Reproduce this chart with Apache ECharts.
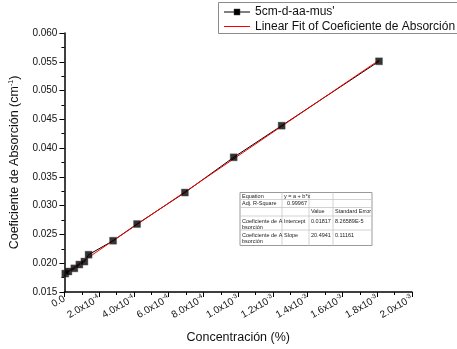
<!DOCTYPE html>
<html><head><meta charset="utf-8">
<script src="https://cdn.jsdelivr.net/npm/echarts@6/dist/echarts.min.js"></script>
<style>html,body{margin:0;padding:0;background:#fff}#c{width:457px;height:349px}</style>
</head><body><div id="c"></div>
<script>
// ---- data ----
const concentration = [0.000005, 0.000023, 0.000057, 0.000086, 0.000115, 0.000139, 0.00028, 0.000418, 0.000693, 0.000974, 0.00125, 0.00181];
const absorption    = [0.0182, 0.01856, 0.01911, 0.01977, 0.02029, 0.02148, 0.02391, 0.02681, 0.03228, 0.0384, 0.0439, 0.05508];
const fitX = [0, 0.00181];
const fitY = [0.01817, 0.05527];
const xTickLabels = ['0.0', '2.0x10{s|-4}', '4.0x10{s|-4}', '6.0x10{s|-4}', '8.0x10{s|-4}', '1.0x10{s|-3}', '1.2x10{s|-3}', '1.4x10{s|-3}', '1.6x10{s|-3}', '1.8x10{s|-3}', '2.0x10{s|-3}'];
const yTickLabels = ['0.015', '0.020', '0.025', '0.030', '0.035', '0.040', '0.045', '0.050', '0.055', '0.060'];
const seriesName = "5cm-d-aa-mus'";
const fitName = 'Linear Fit of Coeficiente de Absorción';
const xAxisName = 'Concentración (%)';
const yAxisName = 'Coeficiente de Absorción (cm{s|-1})';
const tableRows = [
  ['Equation', 'y = a + b*x', '', ''],
  ['Adj. R-Square', '0.99967', '', ''],
  ['', '', 'Value', 'Standard Error'],
  ['Coeficiente de A\nbsorción', 'Intercept', '0.01817', '8.26589E-5'],
  ['Coeficiente de A\nbsorción', 'Slope', '20.4941', '0.11161']
];

const FONT = '"Liberation Sans", Arial, sans-serif';

// ---- fit-results table (annotation) ----
const colX = [240, 282, 309, 333, 372];
const rowY = [192.5, 199.5, 207.5, 216, 230, 245.5];
const tableEls = [];
tableEls.push({type:'rect', shape:{x:colX[0], y:rowY[0], width:colX[4]-colX[0], height:rowY[5]-rowY[0]},
  style:{fill:'#fff', stroke:'#9a9a9a', lineWidth:1}, silent:true, z:10});
for (let i = 1; i < rowY.length - 1; i++) {
  tableEls.push({type:'line', shape:{x1:colX[0], y1:rowY[i], x2:colX[4], y2:rowY[i]}, style:{stroke:'#c8c8c8', lineWidth:0.8}, silent:true, z:11});
}
for (let j = 1; j < colX.length - 1; j++) {
  tableEls.push({type:'line', shape:{x1:colX[j], y1:rowY[0], x2:colX[j], y2:rowY[5]}, style:{stroke:'#c8c8c8', lineWidth:0.8}, silent:true, z:11});
}
tableRows.forEach((row, r) => {
  row.forEach((txt, c) => {
    if (!txt) return;
    const multi = r >= 3;
    const rightAlign = (r === 1 && c === 1);
    tableEls.push({type:'text', silent:true, z:12,
      style:{text: txt, x: rightAlign ? colX[c+1]-2 : colX[c]+2,
        y: multi ? rowY[r]+2 : (rowY[r]+rowY[r+1])/2,
        align: rightAlign ? 'right' : 'left',
        verticalAlign: multi ? 'top' : 'middle',
        font: '5.5px ' + FONT, lineHeight: 6, fill:'#222'}});
  });
});

// ---- legend box (extends past the right edge as in the reference) ----
const legendEls = [
  {type:'rect', shape:{x:218.5, y:2.5, width:300, height:31}, style:{fill:'#fff', stroke:'#8a8a8a', lineWidth:1}, silent:true, z:20},
  {type:'line', shape:{x1:224, y1:12, x2:250, y2:12}, style:{stroke:'#000', lineWidth:1}, silent:true, z:21},
  {type:'rect', shape:{x:234, y:9, width:6, height:6}, style:{fill:'#000', stroke:'#444', lineWidth:0.5}, silent:true, z:22},
  {type:'text', style:{text: seriesName, x:255, y:12, verticalAlign:'middle', font:'12px ' + FONT, fill:'#111'}, silent:true, z:21},
  {type:'line', shape:{x1:224, y1:26.5, x2:250, y2:26.5}, style:{stroke:'#ff0000', lineWidth:1}, silent:true, z:21},
  {type:'text', style:{text: fitName, x:255, y:26.5, verticalAlign:'middle', font:'12px ' + FONT, fill:'#111'}, silent:true, z:21}
];

const chart = echarts.init(document.getElementById('c'), null, {renderer:'canvas'});
chart.setOption({
  animation: false,
  backgroundColor: '#fff',
  textStyle: {fontFamily: FONT},
  grid: {left: 63, right: 45, top: 33, bottom: 57},
  xAxis: {
    type: 'value', min: 0, max: 0.002, interval: 0.0002,
    name: xAxisName, nameLocation: 'middle', nameGap: 39,
    nameTextStyle: {fontSize: 12.5, color: '#111'},
    axisLine: {onZero: false, lineStyle: {color: '#000', width: 1.5}},
    axisTick: {inside: false, length: 5, lineStyle: {color: '#000', width: 1}},
    minorTick: {show: true, splitNumber: 2, length: 3, lineStyle: {color: '#000', width: 1}},
    splitLine: {show: false},
    axisLabel: {
      rotate: 30, margin: 6, color: '#111', fontSize: 10,
      formatter: v => xTickLabels[Math.round(v / 0.0002)],
      rich: {s: {fontSize: 6.5, verticalAlign: 'bottom', padding: [0, 0, 6, 0]}}
    }
  },
  yAxis: {
    type: 'value', min: 0.015, max: 0.060, interval: 0.005,
    name: yAxisName, nameLocation: 'middle', nameGap: 40, nameRotate: 90,
    nameTextStyle: {fontSize: 12.5, color: '#111', rich: {s: {fontSize: 7, verticalAlign: 'bottom', padding: [0, 0, 7, 0]}}},
    axisLine: {show: true, onZero: false, lineStyle: {color: '#000', width: 1.5}},
    axisTick: {show: true, inside: false, length: 5, lineStyle: {color: '#000', width: 1}},
    minorTick: {show: true, splitNumber: 2, length: 3, lineStyle: {color: '#000', width: 1}},
    splitLine: {show: false},
    axisLabel: {
      margin: 7, color: '#111', fontSize: 10,
      formatter: v => yTickLabels[Math.round((v - 0.015) / 0.005)]
    }
  },
  series: [
    {
      name: seriesName, type: 'line', z: 1,
      data: concentration.map((x, i) => [x, absorption[i]]),
      showSymbol: false, symbol: 'none',
      lineStyle: {color: '#000', width: 1},
      itemStyle: {color: '#000'}
    },
    {
      name: fitName, type: 'line', z: 2,
      data: fitX.map((x, i) => [x, fitY[i]]),
      showSymbol: false, symbol: 'none',
      lineStyle: {color: '#ff0000', width: 1},
      itemStyle: {color: '#ff0000'}
    },
    {
      name: seriesName + ' points', type: 'scatter', z: 3,
      data: concentration.map((x, i) => [x, absorption[i]]),
      symbol: 'rect', symbolSize: 7,
      itemStyle: {color: '#000', borderColor: '#555', borderWidth: 0.5}
    }
  ],
  graphic: [{type: 'group', elements: tableEls.concat(legendEls)}]
});
</script></body></html>
